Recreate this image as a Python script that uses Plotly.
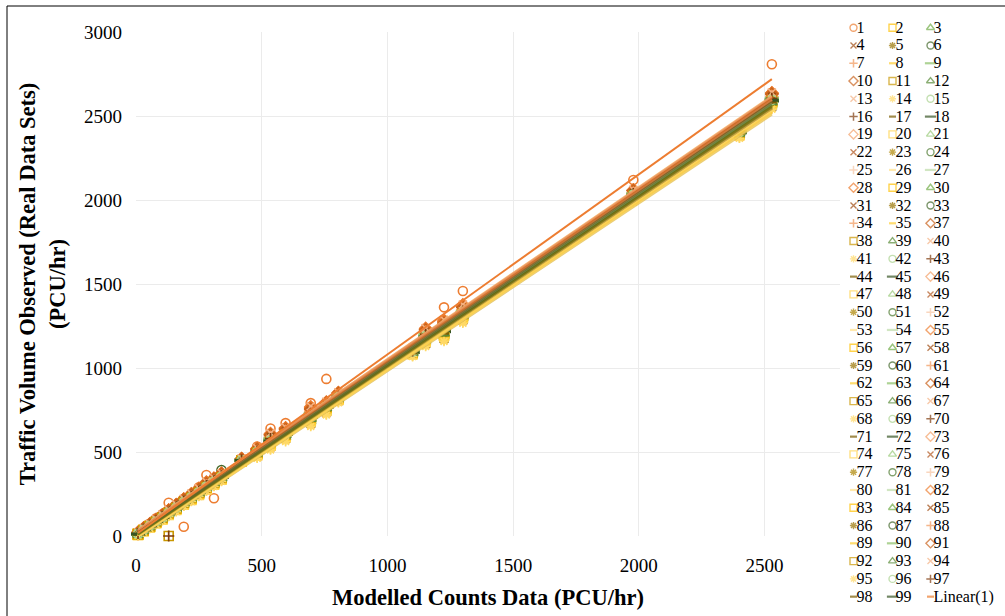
import numpy as np
import plotly.graph_objects as go

# ---------------- data ----------------
modelled = [8, 30, 55, 80, 105, 130, 160, 190, 220, 250, 280, 310, 340, 420, 482, 535, 595, 695, 757, 805, 1100, 1152, 1225, 1300, 1978, 2400, 2529]

s01 = [15, 45, 70, 105, 130, 198, 170, 55, 250, 290, 363, 225, 360, 455, 532, 640, 672, 791, 935, 850, 1123, 1210, 1361, 1458, 2119, 2452, 2808]
s02 = [14, 38, 62, 88, 112, 140, 170, 205, 230, 262, 300, 322, 352, 448, 500, 575, 610, 720, 770, 830, 1095, 1190, 1230, 1330, 2030, 2405, 2600]
s03 = [10, 33, 58, 84, 108, 136, 166, 198, 226, 258, 290, 318, 348, 452, 495, 560, 602, 705, 765, 820, 1090, 1175, 1210, 1320, 2025, 2400, 2590]
s04 = [18, 42, 66, 92, 118, 145, 175, 210, 238, 270, 305, 330, 360, 455, 510, 590, 625, 740, 780, 840, 1105, 1210, 1250, 1345, 2045, 2420, 2615]
s05 = [6, 28, 52, 78, 100, 128, 158, 190, 218, 248, 282, 310, 340, 445, 485, 545, 595, 690, 755, 815, 1085, 1165, 1200, 1305, 2010, 2390, 2575]
s06 = [12, 36, 60, 86, 110, 138, 168, 200, 232, 262, 295, 325, 393, 450, 498, 565, 608, 712, 772, 826, 1098, 1185, 1222, 1325, 2028, 2402, 2592]
s07 = [16, 40, 64, 90, 115, 142, 172, 206, 235, 266, 298, 328, 356, 452, 505, 580, 618, 730, 778, 835, 1100, 1200, 1240, 1338, 2038, 2410, 2605]
s08 = [8, 30, 54, 80, 104, 132, 162, 194, 222, 252, 286, 314, 344, 446, 490, 552, 600, 698, 760, 818, 1088, 1170, 1205, 1312, 2015, 2394, 2580]
s09 = [11, 35, 59, 85, 109, 137, 167, 199, 228, 260, 292, 320, 350, 449, 496, 562, 605, 708, 768, 824, 1094, 1180, 1218, 1322, 2026, 2401, 2591]
s10 = [20, 45, 70, 96, 122, 150, 182, 215, 245, 276, 312, 338, 368, 458, 515, 600, 635, 755, 790, 848, 1110, 1225, 1265, 1360, 2055, 2428, 2630]
s11 = [9, 31, 56, 82, 106, 0, 164, 196, 224, 255, 288, 316, 346, 447, 492, 556, 601, 700, 762, 820, 1090, 1172, 1208, 1315, 2018, 2396, 2584]
s12 = [13, 37, 61, 87, 111, 139, 169, 202, 231, 261, 294, 324, 354, 451, 499, 567, 609, 714, 771, 828, 1097, 1188, 1226, 1327, 2031, 2404, 2596]
s13 = [4, 25, 48, 72, 95, 122, 150, 182, 210, 240, 272, 300, 330, 440, 470, 525, 575, 665, 730, 800, 1075, 1140, 1170, 1280, 1995, 2375, 2550]
s14 = [22, 48, 74, 100, 128, 156, 188, 222, 252, 285, 325, 345, 375, 462, 525, 612, 648, 775, 800, 855, 1112, 1240, 1290, 1380, 2062, 2432, 2640]
s15 = [7, 29, 53, 79, 102, 130, 160, 192, 220, 250, 284, 312, 342, 444, 488, 548, 597, 694, 757, 816, 1086, 1168, 1202, 1308, 2012, 2392, 2578]
s16 = [15, 39, 63, 89, 113, 141, 171, 204, 233, 264, 297, 326, 355, 453, 502, 578, 615, 725, 775, 832, 1102, 1198, 1236, 1335, 2035, 2408, 2602]
s17 = [3, 24, 46, 70, 92, 118, 146, 178, 206, 236, 268, 296, 326, 438, 465, 515, 565, 655, 722, 795, 1070, 1130, 1160, 1270, 1988, 2370, 2542]
s18 = [12, 34, 59, 84, 108, 135, 165, 197, 227, 258, 291, 319, 349, 450, 497, 560, 604, 706, 767, 823, 1093, 1178, 1216, 1321, 2024, 2399, 2589]
s19 = [17, 41, 66, 91, 117, 144, 174, 208, 237, 268, 302, 331, 359, 454, 508, 585, 620, 735, 779, 838, 1104, 1205, 1245, 1342, 2042, 2415, 2610]
s20 = [10, 32, 57, 83, 107, 134, 163, 195, 224, 254, 287, 315, 345, 447, 491, 554, 600, 702, 763, 821, 1091, 1174, 1210, 1317, 2020, 2397, 2586]
s21 = [5, 27, 50, 75, 98, 125, 154, 186, 214, 244, 277, 305, 335, 442, 478, 535, 585, 680, 742, 808, 1080, 1155, 1188, 1295, 2004, 2384, 2565]
s22 = [19, 44, 68, 94, 120, 148, 179, 212, 242, 273, 308, 335, 364, 456, 512, 595, 630, 748, 786, 845, 1108, 1218, 1258, 1352, 2050, 2424, 2622]
s23 = [11, 34, 58, 85, 110, 137, 167, 200, 229, 259, 293, 321, 351, 449, 497, 563, 606, 710, 769, 825, 1095, 1182, 1220, 1324, 2027, 2402, 2593]
s24 = [14, 38, 63, 89, 114, 142, 173, 207, 236, 267, 301, 329, 358, 453, 506, 582, 619, 732, 778, 836, 1103, 1202, 1242, 1340, 2040, 2413, 2608]
s25 = [8, 31, 55, 81, 105, 133, 162, 193, 222, 252, 285, 313, 343, 446, 489, 550, 598, 696, 759, 817, 1087, 1169, 1204, 1310, 2014, 2393, 2579]
s26 = [6, 27, 51, 76, 99, 126, 155, 187, 215, 245, 278, 306, 336, 443, 480, 538, 588, 684, 746, 810, 1082, 1158, 1192, 1298, 2006, 2386, 2568]
s27 = [13, 36, 61, 87, 112, 140, 170, 203, 232, 263, 296, 325, 355, 451, 501, 570, 611, 718, 773, 829, 1099, 1192, 1230, 1330, 2032, 2405, 2598]
s28 = [21, 46, 72, 98, 125, 153, 185, 219, 249, 281, 318, 342, 372, 460, 520, 606, 642, 765, 795, 852, 1111, 1232, 1278, 1372, 2058, 2430, 2636]
s29 = [9, 32, 56, 82, 106, 134, 163, 195, 223, 254, 288, 316, 346, 447, 493, 557, 602, 701, 763, 820, 1090, 1173, 1208, 1316, 2019, 2396, 2585]
s30 = [12, 35, 60, 86, 110, 138, 168, 201, 230, 261, 294, 322, 352, 450, 499, 566, 607, 713, 770, 827, 1096, 1186, 1224, 1326, 2029, 2403, 2595]
s31 = [16, 40, 65, 91, 116, 143, 174, 208, 238, 269, 303, 332, 361, 455, 509, 588, 622, 738, 781, 840, 1105, 1207, 1248, 1344, 2043, 2417, 2612]
s32 = [7, 29, 53, 78, 101, 129, 158, 190, 218, 248, 281, 309, 339, 444, 486, 546, 594, 690, 754, 814, 1085, 1164, 1198, 1303, 2009, 2389, 2573]
s33 = [10, 33, 57, 83, 107, 135, 165, 197, 226, 256, 290, 318, 348, 448, 495, 559, 603, 704, 766, 822, 1092, 1176, 1212, 1319, 2022, 2398, 2588]
s34 = [18, 43, 67, 93, 119, 147, 178, 211, 240, 271, 306, 334, 363, 456, 511, 592, 628, 745, 784, 843, 1107, 1214, 1255, 1349, 2048, 2422, 2619]
s35 = [5, 26, 49, 74, 97, 124, 152, 184, 212, 242, 275, 303, 333, 441, 475, 530, 580, 675, 738, 805, 1078, 1150, 1182, 1290, 2000, 2380, 2560]
s37 = [15, 39, 64, 90, 115, 143, 173, 206, 235, 266, 299, 327, 357, 452, 504, 579, 616, 728, 776, 834, 1101, 1199, 1238, 1337, 2037, 2409, 2604]
s38 = [11, 34, 59, 85, 109, 137, 166, 199, 228, 259, 292, 320, 350, 449, 496, 561, 605, 707, 768, 824, 1094, 1180, 1218, 1322, 2025, 2400, 2590]
s39 = [8, 30, 54, 79, 103, 131, 160, 192, 220, 250, 283, 311, 341, 445, 487, 549, 596, 693, 756, 815, 1086, 1166, 1200, 1306, 2011, 2391, 2576]
s40 = [20, 45, 71, 97, 123, 151, 183, 216, 246, 278, 314, 340, 370, 459, 517, 602, 638, 758, 792, 850, 1110, 1228, 1270, 1365, 2056, 2429, 2632]
s41 = [4, 25, 47, 71, 94, 120, 148, 180, 208, 238, 270, 298, 328, 439, 468, 520, 570, 660, 726, 798, 1072, 1135, 1165, 1275, 1992, 2372, 2546]
s42 = [13, 37, 62, 88, 112, 140, 170, 202, 232, 262, 295, 324, 354, 451, 500, 568, 610, 716, 772, 828, 1098, 1190, 1228, 1328, 2031, 2404, 2597]
s43 = [14, 38, 62, 88, 113, 0, 171, 204, 233, 264, 298, 326, 356, 452, 503, 576, 614, 724, 774, 831, 1100, 1196, 1234, 1334, 2034, 2407, 2601]
s44 = [9, 31, 55, 81, 105, 132, 161, 193, 221, 251, 284, 312, 342, 446, 489, 551, 598, 697, 759, 817, 1088, 1168, 1203, 1309, 2013, 2393, 2580]
s45 = [12, 35, 60, 86, 110, 138, 168, 200, 229, 260, 293, 321, 351, 450, 498, 564, 607, 711, 769, 826, 1096, 1184, 1222, 1325, 2028, 2402, 2594]
s46 = [17, 42, 66, 92, 118, 146, 176, 210, 239, 270, 304, 333, 362, 455, 510, 590, 624, 742, 782, 841, 1106, 1210, 1252, 1347, 2046, 2419, 2616]
s47 = [6, 28, 52, 77, 100, 127, 156, 188, 216, 246, 279, 307, 337, 443, 482, 540, 590, 686, 748, 811, 1083, 1160, 1194, 1300, 2007, 2387, 2570]
s48 = [10, 33, 58, 84, 108, 136, 165, 198, 227, 257, 290, 318, 348, 448, 495, 560, 604, 705, 767, 823, 1093, 1177, 1214, 1320, 2023, 2399, 2589]
s49 = [19, 44, 69, 95, 121, 149, 180, 213, 243, 275, 310, 337, 366, 457, 514, 598, 633, 752, 788, 846, 1109, 1222, 1262, 1356, 2052, 2426, 2626]
s50 = [11, 34, 58, 84, 109, 136, 166, 199, 228, 258, 292, 320, 350, 449, 496, 562, 605, 709, 768, 824, 1094, 1181, 1219, 1323, 2026, 2401, 2592]
s51 = [14, 38, 63, 89, 114, 141, 172, 206, 235, 266, 300, 328, 357, 453, 505, 581, 618, 730, 777, 835, 1102, 1201, 1241, 1339, 2039, 2412, 2607]
s52 = [7, 30, 54, 80, 103, 131, 160, 192, 220, 250, 284, 312, 342, 445, 488, 549, 597, 695, 758, 816, 1087, 1167, 1202, 1308, 2012, 2392, 2578]
s53 = [5, 27, 50, 75, 98, 125, 154, 186, 214, 244, 276, 304, 334, 442, 477, 533, 583, 678, 740, 806, 1079, 1153, 1186, 1293, 2002, 2382, 2562]
s54 = [13, 36, 61, 87, 111, 139, 169, 202, 231, 262, 296, 324, 354, 451, 500, 569, 610, 717, 772, 829, 1098, 1191, 1229, 1329, 2031, 2405, 2598]
s55 = [22, 47, 73, 99, 126, 155, 187, 221, 251, 284, 322, 344, 374, 461, 522, 610, 645, 770, 798, 854, 1112, 1236, 1284, 1376, 2060, 2431, 2638]
s56 = [9, 32, 56, 82, 106, 134, 163, 195, 224, 254, 287, 315, 345, 447, 492, 555, 601, 700, 762, 820, 1090, 1172, 1207, 1315, 2018, 2396, 2584]
s57 = [12, 35, 60, 86, 110, 138, 168, 201, 230, 260, 293, 322, 352, 450, 499, 565, 608, 712, 770, 827, 1096, 1186, 1223, 1326, 2029, 2403, 2595]
s58 = [16, 41, 65, 91, 117, 144, 175, 209, 238, 269, 304, 332, 361, 455, 509, 587, 622, 737, 780, 839, 1105, 1206, 1247, 1344, 2043, 2416, 2612]
s59 = [7, 29, 53, 78, 102, 129, 158, 190, 218, 248, 281, 309, 339, 444, 486, 546, 593, 689, 753, 814, 1085, 1163, 1197, 1303, 2009, 2389, 2574]
s60 = [10, 33, 57, 83, 107, 135, 164, 197, 226, 256, 289, 317, 347, 448, 494, 558, 603, 703, 765, 822, 1092, 1175, 1211, 1318, 2021, 2398, 2587]
s61 = [18, 43, 68, 94, 120, 148, 178, 212, 241, 272, 307, 335, 364, 456, 512, 594, 629, 746, 785, 844, 1107, 1216, 1256, 1350, 2049, 2423, 2620]
s62 = [4, 26, 48, 73, 96, 123, 151, 183, 211, 241, 273, 301, 331, 440, 472, 527, 577, 670, 734, 802, 1076, 1145, 1178, 1286, 1998, 2378, 2556]
s63 = [14, 38, 62, 88, 113, 141, 171, 204, 233, 264, 297, 326, 356, 452, 503, 577, 614, 726, 775, 832, 1101, 1197, 1236, 1335, 2035, 2408, 2602]
s64 = [20, 46, 71, 97, 124, 152, 184, 217, 247, 279, 315, 341, 371, 459, 518, 604, 640, 760, 793, 851, 1110, 1230, 1274, 1368, 2057, 2429, 2634]
s65 = [11, 34, 59, 85, 109, 137, 167, 199, 228, 259, 292, 320, 350, 449, 497, 562, 605, 708, 768, 825, 1094, 1181, 1219, 1323, 2026, 2401, 2591]
s66 = [8, 31, 55, 80, 104, 132, 161, 193, 221, 251, 285, 313, 343, 446, 490, 551, 599, 698, 760, 818, 1088, 1169, 1204, 1311, 2015, 2394, 2581]
s67 = [21, 46, 72, 98, 125, 154, 186, 219, 249, 282, 320, 343, 373, 460, 521, 608, 644, 768, 796, 853, 1111, 1234, 1280, 1374, 2059, 2430, 2637]
s68 = [3, 24, 46, 70, 93, 119, 147, 179, 207, 237, 269, 297, 327, 438, 466, 517, 567, 657, 724, 796, 1071, 1132, 1162, 1272, 1990, 2371, 2544]
s69 = [13, 37, 61, 87, 111, 139, 169, 202, 231, 261, 295, 323, 353, 451, 500, 567, 609, 715, 771, 828, 1097, 1189, 1227, 1328, 2030, 2404, 2596]
s70 = [15, 39, 64, 90, 115, 142, 173, 206, 235, 266, 299, 327, 357, 453, 504, 579, 616, 729, 776, 833, 1101, 1199, 1239, 1337, 2037, 2410, 2604]
s71 = [9, 32, 56, 81, 105, 133, 162, 194, 222, 253, 286, 314, 344, 446, 491, 553, 600, 699, 761, 819, 1089, 1171, 1206, 1313, 2016, 2395, 2582]
s72 = [12, 36, 60, 86, 110, 138, 168, 201, 230, 261, 294, 322, 352, 450, 499, 566, 608, 713, 770, 827, 1096, 1187, 1225, 1327, 2029, 2403, 2595]
s73 = [17, 42, 67, 93, 118, 146, 177, 211, 240, 271, 305, 333, 362, 455, 511, 591, 626, 744, 783, 842, 1106, 1212, 1253, 1348, 2047, 2420, 2618]
s74 = [6, 28, 51, 76, 99, 126, 155, 187, 215, 245, 278, 306, 336, 443, 481, 539, 589, 685, 747, 810, 1082, 1159, 1193, 1299, 2006, 2386, 2569]
s75 = [10, 34, 58, 84, 108, 136, 166, 198, 227, 257, 291, 319, 349, 449, 495, 561, 604, 706, 767, 823, 1093, 1178, 1215, 1321, 2024, 2400, 2590]
s76 = [19, 44, 69, 95, 121, 149, 181, 214, 244, 276, 311, 337, 367, 457, 514, 597, 632, 750, 787, 846, 1108, 1220, 1260, 1354, 2051, 2425, 2624]
s77 = [11, 35, 59, 85, 109, 137, 167, 200, 229, 259, 293, 321, 351, 449, 497, 563, 606, 710, 769, 825, 1095, 1183, 1221, 1324, 2027, 2402, 2593]
s78 = [14, 39, 63, 89, 114, 142, 172, 206, 236, 267, 301, 329, 358, 453, 506, 583, 619, 731, 778, 836, 1103, 1203, 1243, 1340, 2040, 2413, 2609]
s79 = [7, 30, 54, 79, 103, 130, 159, 191, 219, 249, 282, 310, 340, 445, 487, 547, 595, 692, 755, 815, 1086, 1165, 1199, 1305, 2010, 2390, 2575]
s80 = [5, 27, 50, 75, 98, 125, 153, 185, 213, 243, 276, 304, 334, 442, 476, 532, 582, 677, 739, 806, 1079, 1152, 1185, 1292, 2002, 2382, 2563]
s81 = [13, 36, 61, 87, 112, 140, 170, 203, 232, 263, 296, 325, 355, 451, 501, 570, 611, 718, 773, 830, 1099, 1193, 1231, 1331, 2033, 2406, 2599]
s82 = [21, 46, 72, 98, 124, 153, 185, 218, 248, 280, 317, 342, 372, 460, 519, 605, 641, 763, 794, 852, 1111, 1231, 1276, 1370, 2058, 2430, 2635]
s83 = [9, 32, 56, 82, 106, 134, 163, 196, 224, 254, 288, 316, 346, 447, 493, 556, 602, 701, 763, 821, 1091, 1173, 1209, 1316, 2019, 2397, 2585]
s84 = [12, 35, 60, 86, 111, 138, 169, 201, 230, 261, 294, 323, 353, 450, 499, 566, 609, 714, 771, 827, 1097, 1187, 1225, 1327, 2030, 2404, 2596]
s85 = [16, 41, 66, 92, 117, 145, 175, 209, 239, 270, 304, 332, 361, 455, 509, 589, 623, 740, 781, 840, 1105, 1208, 1249, 1345, 2044, 2418, 2614]
s86 = [7, 29, 52, 78, 101, 128, 157, 189, 217, 247, 280, 308, 338, 444, 485, 544, 592, 688, 752, 813, 1084, 1162, 1196, 1302, 2008, 2388, 2572]
s87 = [10, 33, 57, 83, 107, 135, 164, 197, 225, 256, 289, 317, 347, 448, 494, 558, 603, 704, 766, 822, 1092, 1176, 1213, 1319, 2022, 2398, 2588]
s88 = [18, 43, 68, 94, 120, 147, 178, 211, 241, 272, 307, 334, 363, 456, 512, 593, 628, 745, 784, 843, 1107, 1215, 1254, 1349, 2048, 2422, 2620]
s89 = [4, 25, 48, 72, 95, 122, 150, 182, 210, 240, 272, 300, 330, 440, 471, 524, 574, 667, 732, 801, 1075, 1142, 1175, 1283, 1996, 2376, 2553]
s90 = [14, 38, 62, 88, 113, 141, 171, 204, 234, 265, 298, 326, 356, 452, 503, 578, 615, 727, 775, 832, 1101, 1198, 1237, 1336, 2036, 2409, 2603]
s91 = [20, 45, 70, 96, 123, 151, 183, 216, 246, 277, 313, 339, 369, 458, 516, 601, 636, 756, 791, 849, 1110, 1226, 1268, 1362, 2055, 2428, 2631]
s92 = [11, 34, 58, 84, 109, 136, 166, 199, 228, 258, 291, 319, 349, 449, 496, 561, 605, 707, 768, 824, 1094, 1179, 1217, 1322, 2025, 2401, 2591]
s93 = [8, 31, 55, 81, 104, 132, 161, 194, 222, 252, 285, 313, 343, 446, 490, 552, 599, 697, 760, 818, 1088, 1170, 1205, 1312, 2015, 2395, 2582]
s94 = [22, 47, 73, 100, 127, 156, 188, 222, 252, 285, 323, 345, 375, 462, 524, 612, 647, 772, 799, 855, 1112, 1238, 1287, 1378, 2061, 2432, 2640]
s95 = [3, 23, 45, 69, 91, 117, 145, 177, 205, 235, 267, 295, 325, 437, 463, 512, 562, 652, 720, 793, 1068, 1128, 1158, 1266, 1986, 2368, 2540]
s96 = [13, 37, 62, 88, 112, 140, 170, 203, 232, 262, 296, 324, 354, 451, 501, 569, 610, 717, 772, 829, 1098, 1191, 1229, 1329, 2032, 2405, 2597]
s97 = [15, 40, 64, 90, 115, 143, 174, 207, 236, 267, 300, 328, 358, 453, 505, 580, 617, 730, 777, 834, 1102, 1200, 1240, 1338, 2038, 2411, 2605]
s98 = [9, 32, 56, 82, 106, 133, 162, 195, 223, 253, 287, 315, 345, 447, 492, 554, 601, 700, 762, 820, 1090, 1172, 1207, 1314, 2017, 2396, 2583]
s99 = [12, 36, 60, 86, 110, 138, 168, 200, 230, 260, 293, 322, 352, 450, 498, 565, 607, 712, 770, 826, 1096, 1185, 1223, 1326, 2028, 2403, 2594]

series_ids = [n for n in range(1, 100) if n != 36]
observed = [globals()["s%02d" % n] for n in series_ids]

x_ticks = [0, 500, 1000, 1500, 2000, 2500]
y_ticks = [0, 500, 1000, 1500, 2000, 2500, 3000]
x_title = "Modelled Counts Data (PCU/hr)"
y_title = "Traffic Volume Observed (Real Data Sets)<br>(PCU/hr)"
trend_label = "Linear(1)"

# ---------------- styles ----------------
PALETTE = [
    ["#ED7D31", "#FFC000", "#70AD47"],
    ["#9E480E", "#997300", "#43682B"],
    ["#F1975A", "#FFCD33", "#8CC168"],
    ["#C9631C", "#C99700", "#5A8B39"],
    ["#F4B183", "#FFD966", "#A9D18E"],
    ["#7E3A0C", "#7A5C00", "#365423"],
    ["#F3A36B", "#FFD34D", "#9ACA7B"],
    ["#B0561C", "#AD8400", "#4E7A32"],
    ["#F7C4A2", "#FFE08A", "#BDDBA8"],
]
SYMBOLS = ["diamond-open", "square-open", "triangle-up-open", "x-thin-open",
           "asterisk-open", "circle-open", "cross-thin-open", "line-ew-open", "line-ew-open"]
SIZES = [9, 9, 9, 8, 8, 9, 8, 7, 10]
WIDTHS = [1.6, 1.6, 1.6, 1.6, 1.6, 1.6, 1.7, 3.0, 3.0]
FONT = "Liberation Serif"


def style(n):
    color = PALETTE[((n - 1) // 3) % 9][(n - 1) % 3]
    k = (n - 10) % 9
    sym, size, width = SYMBOLS[k], SIZES[k], WIDTHS[k]
    if n == 1:
        sym, size, width = "circle-open", 9, 1.6
    return color, sym, size, width


fig = go.Figure()

# scatter points
for n, ys in zip(series_ids, observed):
    c, sym, sz, lw = style(n)
    fig.add_trace(go.Scatter(
        x=modelled, y=ys, mode="markers", name=str(n), showlegend=False,
        cliponaxis=False,
        marker=dict(symbol=sym, size=sz, color=c, line=dict(width=lw, color=c)),
    ))

# linear trendlines (least squares fit of each series)
xs = np.array(modelled, dtype=float)
x_ends = np.array([xs.min(), xs.max()])
order = [i for i in range(len(series_ids)) if series_ids[i] != 1] + [series_ids.index(1)]
for i in order:
    n = series_ids[i]
    slope, icpt = np.polyfit(xs, np.array(observed[i], dtype=float), 1)
    c = style(n)[0]
    fig.add_trace(go.Scatter(
        x=x_ends, y=slope * x_ends + icpt, mode="lines",
        name=trend_label if n == 1 else "Linear(%d)" % n, showlegend=False,
        opacity=1 if n == 1 else 0.45,
        line=dict(color=c, width=2 if n == 1 else 2.2),
    ))

# legend (3 columns) drawn on an auxiliary pixel-scaled axis
leg_names = [str(n) for n in series_ids] + [trend_label]
leg_colors, leg_syms, leg_sizes, leg_widths = [], [], [], []
for n in series_ids:
    c, sym, sz, lw = style(n)
    leg_colors.append(c); leg_syms.append(sym); leg_sizes.append(sz - 2); leg_widths.append(min(lw, 2.4) - 0.2)
leg_colors.append("#ED7D31"); leg_syms.append("line-ew-open"); leg_sizes.append(5); leg_widths.append(2.2)

col_x = [853.5, 892.5, 930.5]
row_y0, row_h = 27.7, 17.78
lx = [col_x[k % 3] for k in range(len(leg_names))]
ly = [row_y0 + row_h * (k // 3) for k in range(len(leg_names))]

fig.add_trace(go.Scatter(
    x=lx, y=ly, xaxis="x2", yaxis="y2", mode="markers", showlegend=False, hoverinfo="skip",
    cliponaxis=False,
    marker=dict(symbol=leg_syms, size=leg_sizes, color=leg_colors,
                line=dict(width=leg_widths, color=leg_colors)),
))
fig.add_trace(go.Scatter(
    x=[v + 3 for v in lx], y=[v + 1 for v in ly], xaxis="x2", yaxis="y2", mode="text",
    text=leg_names, textposition="middle right", showlegend=False, hoverinfo="skip",
    cliponaxis=False,
    textfont=dict(family=FONT, size=16, color="black"),
))

L, R, T, B = 136, 2, 10, 8
W, H = 1005, 616
pw, ph = W - L - R, H - T - B

fig.update_layout(
    template="none",
    width=W, height=H,
    margin=dict(l=L, r=R, t=T, b=B),
    paper_bgcolor="white", plot_bgcolor="white",
    showlegend=False,
    font=dict(family=FONT, size=19, color="black"),
    xaxis=dict(
        domain=[0, (840 - L) / pw], range=[0, 2800], tickvals=x_ticks,
        showgrid=True, gridcolor="#EBEBEB", gridwidth=1, zeroline=False, showline=False,
        ticks="", ticklabelstandoff=16, tickfont=dict(family=FONT, size=19),
        title=dict(text=x_title, font=dict(family=FONT, size=22.5, weight="bold"), standoff=14),
        automargin=False,
    ),
    yaxis=dict(
        domain=[(H - B - 536) / ph, (H - B - 32) / ph], range=[0, 3000], tickvals=y_ticks,
        showgrid=True, gridcolor="#EBEBEB", gridwidth=1, zeroline=False, showline=False,
        ticks="", ticklabelstandoff=13, tickfont=dict(family=FONT, size=19),
        title=dict(text=y_title, font=dict(family=FONT, size=22.5, weight="bold"), standoff=12),
        automargin=False,
    ),
    xaxis2=dict(domain=[(845 - L) / pw, 1], range=[845, 1003], visible=False, anchor="y2"),
    yaxis2=dict(domain=[0, 1], range=[H - B, T], visible=False, anchor="x2"),
    shapes=[dict(type="rect", xref="paper", yref="paper",
                 x0=(7 - L) / pw, x1=(1012 - L) / pw,
                 y0=(H - B - 622) / ph, y1=(H - B - 6) / ph,
                 line=dict(color="black", width=1), fillcolor="rgba(0,0,0,0)", layer="above")],
)

fig.write_html("out.html")
